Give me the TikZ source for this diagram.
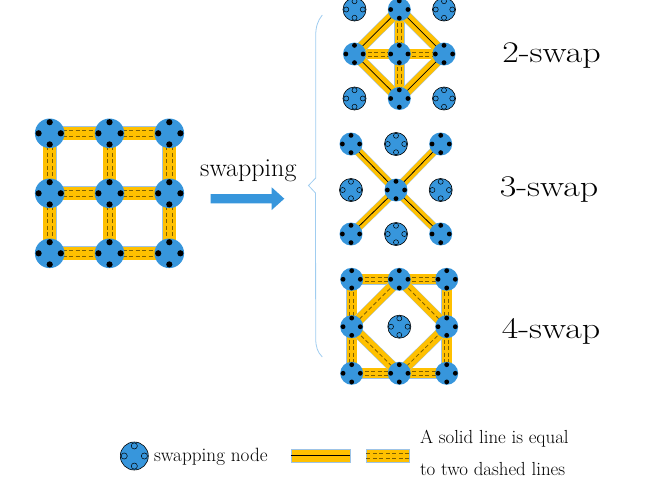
\documentclass[tikz,border=0pt]{standalone}
\usepackage{fontspec}
\usetikzlibrary{calc,backgrounds}
\definecolor{nodeblue}{RGB}{55,150,220}
\definecolor{bandyellow}{RGB}{255,192,0}
\definecolor{bandedge}{RGB}{157,195,230}
\definecolor{dashcol}{RGB}{127,96,0}
\definecolor{bracecol}{RGB}{160,205,240}
\tikzset{
  actn/.style={circle, fill=nodeblue, inner sep=0pt, outer sep=0pt},
  pasn/.style={circle, fill=nodeblue, draw=black, line width=0.6pt, inner sep=0pt, outer sep=0pt},
  dashln/.style={dashcol, line width=0.8pt, dash pattern=on 4pt off 2.5pt},
  solidln/.style={black, line width=0.75pt},
  lbl/.style={inner sep=0pt, outer sep=0pt},
}
\newcommand\actnode[4]{%
  \node[actn, minimum size={#4*2pt}] (#1) at (#2,#3) {};
  \foreach \a in {0,90,180,270} \fill[black] (#1.center) ++(\a:{#4*0.75pt}) circle ({#4*0.21pt});
}
\newcommand\pasnode[4]{%
  \node[pasn, minimum size={#4*2pt}] (#1) at (#2,#3) {};
  \foreach \a in {0,90,180,270} \draw[black, line width=0.5pt] (#1.center) ++(\a:{#4*0.72pt}) circle ({#4*0.22pt});
}
% band: a, b, width
\newcommand\band[3]{%
  \draw[bandedge, line width={#3pt+0.9pt}] (#1.center) -- (#2.center);
  \draw[bandyellow, line width=#3pt] (#1.center) -- (#2.center);
}
\newcommand\bandDD[3]{%
  \band{#1}{#2}{#3}
  \draw[dashln] ($(#1.center)!{#3*0.2pt}!90:(#2.center)$) -- ($(#2.center)!{#3*0.2pt}!-90:(#1.center)$);
  \draw[dashln] ($(#1.center)!{#3*0.2pt}!-90:(#2.center)$) -- ($(#2.center)!{#3*0.2pt}!90:(#1.center)$);
}
\newcommand\bandS[3]{%
  \band{#1}{#2}{#3}
  \draw[solidln] (#1.center) -- (#2.center);
}
\newcommand\bandD[3]{%
  \band{#1}{#2}{#3}
  \draw[dashln] (#1.center) -- (#2.center);
}
\begin{document}
\begin{tikzpicture}[x=1pt, y=-1pt]
\useasboundingbox (0,0) rectangle (664,485);

% ---------- left grid ----------
\foreach \i/\x in {1/49.7,2/109.5,3/169.3}
  \foreach \j/\y in {1/133.3,2/193.3,3/253.3}
    {\actnode{g\i\j}{\x}{\y}{14.8}}
\begin{pgfonlayer}{background}
  \bandDD{g11}{g21}{13}\bandDD{g21}{g31}{13}
  \bandDD{g12}{g22}{13}\bandDD{g22}{g32}{13}
  \bandDD{g13}{g23}{13}\bandDD{g23}{g33}{13}
  \bandDD{g11}{g12}{13}\bandDD{g12}{g13}{13}
  \bandDD{g21}{g22}{13}\bandDD{g22}{g23}{13}
  \bandDD{g31}{g32}{13}\bandDD{g32}{g33}{13}
\end{pgfonlayer}

% ---------- arrow and label ----------
\node[lbl, anchor=base, font=\fontsize{26}{31}\selectfont] (swaplbl) at (248.3,176) {swapping};
\fill[nodeblue] (210.7,194) -- (271.7,194) -- (271.7,187.3) -- (284.3,198.7)
  -- (271.7,210) -- (271.7,203.3) -- (210.7,203.3) -- cycle;

% ---------- brace ----------
\draw[bracecol, line width=0.8pt] (322.3,15) .. controls (317.5,21) and (315.7,27) .. (315.7,36)
  -- (315.7,178) -- (308.5,185.5) -- (315.5,193) -- (315.7,338)
  .. controls (315.7,347) and (317.5,352) .. (322.3,357);

% ---------- 2-swap ----------
\pasnode{a11}{354.5}{9.5}{11.5}
\pasnode{a31}{444}{9.5}{11.5}
\pasnode{a13}{354.5}{98.5}{11.5}
\pasnode{a33}{444}{98.5}{11.5}
\actnode{a21}{399.3}{9.5}{11.5}
\actnode{a12}{354.5}{54}{11.5}
\actnode{a22}{399.3}{54}{11.5}
\actnode{a32}{444}{54}{11.5}
\actnode{a23}{399.3}{98.5}{11.5}
\begin{pgfonlayer}{background}
  \bandDD{a21}{a22}{9.5}\bandDD{a12}{a22}{9.5}
  \bandDD{a22}{a32}{9.5}\bandDD{a22}{a23}{9.5}
  \bandS{a21}{a12}{10}\bandS{a21}{a32}{10}
  \bandS{a12}{a23}{10}\bandS{a32}{a23}{10}
\end{pgfonlayer}
\node[lbl, anchor=base, font=\fontsize{30}{36}\selectfont] (lbl2) at (551.5,62.3) {\scalebox{1.2}[1]{2-swap}};

% ---------- 3-swap ----------
\actnode{b11}{351}{144}{11.5}
\pasnode{b21}{396}{144}{11.5}
\actnode{b31}{440.7}{144}{11.5}
\pasnode{b12}{351}{190}{11.5}
\actnode{b22}{396}{190}{11.5}
\pasnode{b32}{440.7}{190}{11.5}
\actnode{b13}{351}{234}{11.5}
\pasnode{b23}{396}{234}{11.5}
\actnode{b33}{440.7}{234}{11.5}
\begin{pgfonlayer}{background}
  \bandS{b22}{b11}{8}\bandS{b22}{b31}{8}
  \bandS{b22}{b13}{8}\bandS{b22}{b33}{8}
\end{pgfonlayer}
\node[lbl, anchor=base, font=\fontsize{30}{36}\selectfont] (lbl3) at (549,196.7) {\scalebox{1.2}[1]{3-swap}};

% ---------- 4-swap ----------
\actnode{c11}{351.7}{279.3}{11.5}
\actnode{c21}{399.3}{279.3}{11.5}
\actnode{c31}{446.7}{279.3}{11.5}
\actnode{c12}{351.7}{326.7}{11.5}
\pasnode{c22}{399.3}{326.7}{11.5}
\actnode{c32}{446.7}{326.7}{11.5}
\actnode{c13}{351.7}{373.3}{11.5}
\actnode{c23}{399.3}{373.3}{11.5}
\actnode{c33}{446.7}{373.3}{11.5}
\begin{pgfonlayer}{background}
  \bandDD{c11}{c21}{10}\bandDD{c21}{c31}{10}
  \bandDD{c11}{c12}{10}\bandDD{c12}{c13}{10}
  \bandDD{c31}{c32}{10}\bandDD{c32}{c33}{10}
  \bandDD{c13}{c23}{10}\bandDD{c23}{c33}{10}
  \bandD{c21}{c12}{10}\bandD{c21}{c32}{10}
  \bandD{c12}{c23}{10}\bandD{c32}{c23}{10}
\end{pgfonlayer}
\node[lbl, anchor=base, font=\fontsize{30}{36}\selectfont] (lbl4) at (551,338.3) {\scalebox{1.2}[1]{4-swap}};

% ---------- legend ----------
\pasnode{leg}{134.3}{456}{14}
\node[lbl, anchor=base west, font=\fontsize{19.2}{23}\selectfont] (legtxt) at (154,461.7) {swapping node};
\node[rectangle, fill=bandyellow, draw=bandedge, line width=0.6pt, minimum width=59pt, minimum height=13pt, inner sep=0pt] (legsolid) at (320.5,455.7) {};
\draw[solidln] (legsolid.west) -- (legsolid.east);
\node[rectangle, fill=bandyellow, draw=bandedge, line width=0.6pt, minimum width=42.5pt, minimum height=13pt, inner sep=0pt] (legdash) at (388,455.7) {};
\draw[dashln] ([yshift=2.5pt]legdash.west) -- ([yshift=2.5pt]legdash.east);
\draw[dashln] ([yshift=-2.5pt]legdash.west) -- ([yshift=-2.5pt]legdash.east);
\node[lbl, anchor=base west, font=\fontsize{18.9}{23}\selectfont] (legl1) at (420,443.3) {A solid line is equal};
\node[lbl, anchor=base west, font=\fontsize{18.9}{23}\selectfont] (legl2) at (420,475) {to two dashed lines};
\end{tikzpicture}
\end{document}
